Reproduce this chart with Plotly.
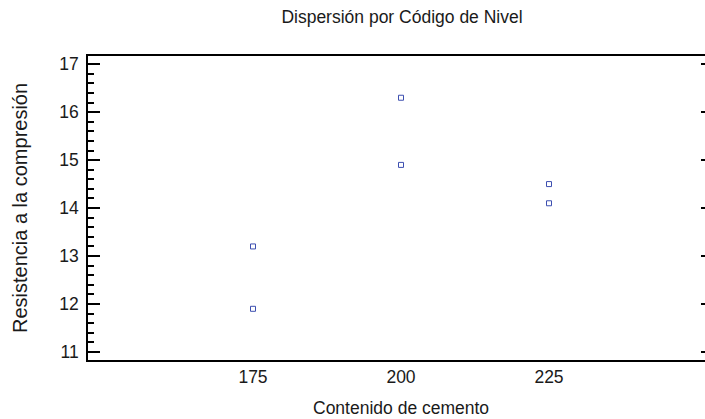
import plotly.graph_objects as go

cemento = [175, 175, 200, 200, 225, 225]
resistencia = [13.2, 11.9, 16.3, 14.9, 14.5, 14.1]
x_ticks = [175, 200, 225]
y_ticks = [11, 12, 13, 14, 15, 16, 17]

FONT = "Liberation Sans, Arial, sans-serif"
TXT = "#1a1a1a"
X_RANGE = [147.13, 251.35]
Y_RANGE = [10.833, 17.17]

fig = go.Figure()
fig.add_trace(go.Scatter(
    x=cemento, y=resistencia, mode="markers",
    marker=dict(symbol="square-open", size=5, color="#3d4fb0", line=dict(width=1)),
    showlegend=False,
))
# invisible trace on a right axis to get right-side ticks
fig.add_trace(go.Scatter(x=[cemento[0]], y=[resistencia[0]], yaxis="y2", mode="markers",
                         marker=dict(opacity=0), showlegend=False, hoverinfo="skip"))

fig.update_layout(
    template="none",
    width=705, height=419,
    margin=dict(l=88, r=0, t=56, b=59, pad=0),
    paper_bgcolor="white", plot_bgcolor="white",
    font=dict(family=FONT, size=17.5, color=TXT),
    title=dict(text="Dispersión por Código de Nivel", x=402/705, xanchor="center",
               y=1 - 17/419, yanchor="middle", xref="container", yref="container",
               font=dict(size=17.5, color=TXT)),
    xaxis=dict(
        range=X_RANGE, tickmode="array", tickvals=x_ticks,
        ticks="", showgrid=False, zeroline=False,
        showline=True, linecolor="black", linewidth=2, mirror=True,
        tickfont=dict(size=17.5),
    ),
    yaxis=dict(
        range=Y_RANGE, tickmode="array", tickvals=y_ticks,
        ticks="inside", ticklen=12, tickwidth=2, tickcolor="black",
        minor=dict(ticks="inside", ticklen=6, tickwidth=2, tickcolor="black", dtick=0.2, showgrid=False),
        showgrid=False, zeroline=False,
        showline=True, linecolor="black", linewidth=1.5,
        tickfont=dict(size=17.5), ticklabelstandoff=4,
    ),
    yaxis2=dict(
        overlaying="y", side="right", anchor="x", range=Y_RANGE, tickmode="array", tickvals=y_ticks,
        ticks="inside", ticklen=4, tickwidth=2, tickcolor="black",
        showticklabels=False, showgrid=False, zeroline=False, showline=False,
    ),
    annotations=[
        dict(text="Contenido de cemento", xref="paper", yref="paper", x=0.5, y=0,
             xanchor="center", yanchor="middle", xshift=4, yshift=-48, showarrow=False,
             font=dict(size=17.5, color=TXT)),
        dict(text="Resistencia a la compresión", xref="paper", yref="paper", x=0, y=0.5,
             xanchor="center", yanchor="middle", xshift=-68, textangle=-90, showarrow=False,
             font=dict(size=20, color=TXT)),
    ],
)

fig.write_html("out.html")
